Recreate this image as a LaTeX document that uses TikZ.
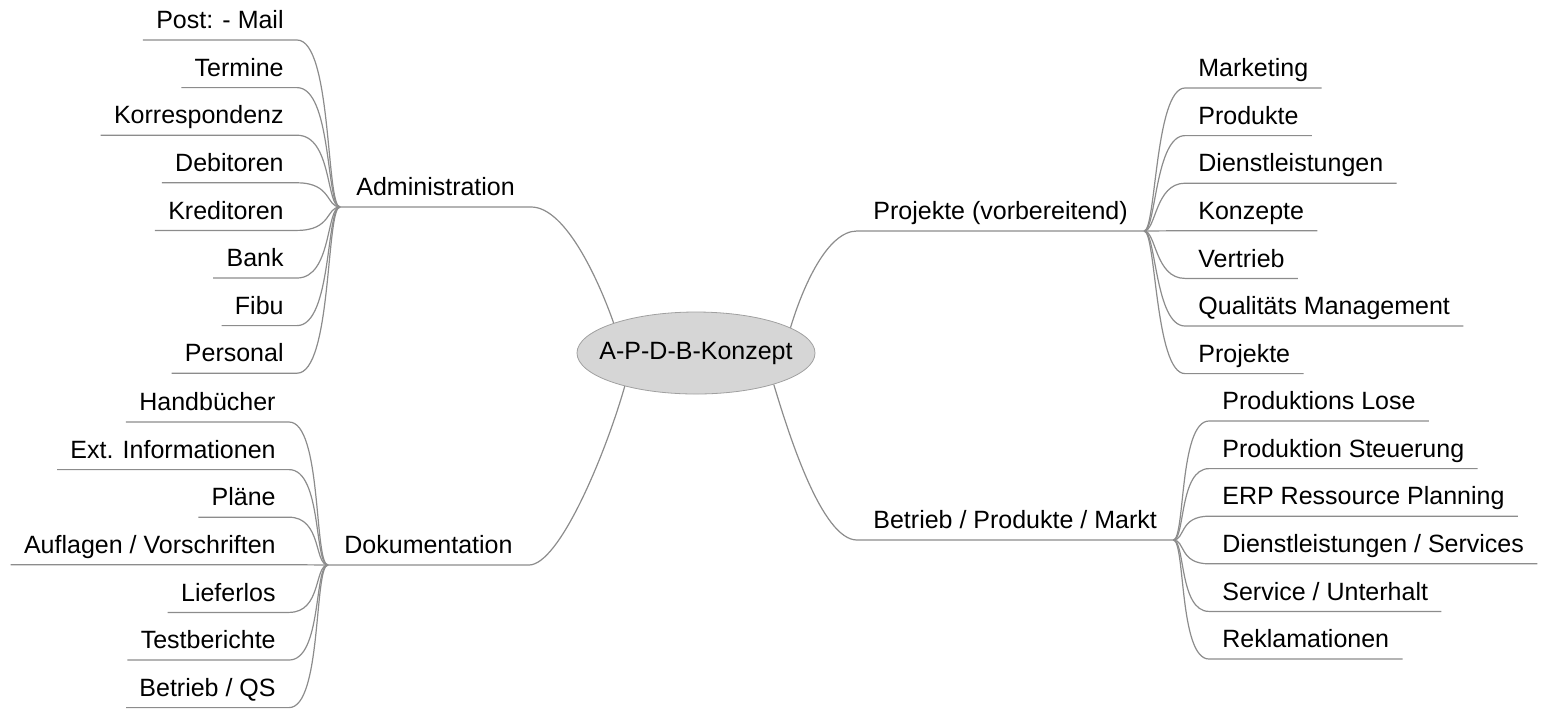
\documentclass[tikz,border=0pt]{standalone}
\usepackage{fontspec}
\setmainfont{Liberation Sans}
\usepackage{tikz}
\usetikzlibrary{shapes}
\usetikzlibrary{positioning}

\definecolor{linegray}{HTML}{8C8C8C}
\definecolor{bubblefill}{HTML}{D6D6D6}
\definecolor{bubbleline}{HTML}{A0A0A0}

\begin{document}
\begin{tikzpicture}[x=0.5pt, y=-0.5pt, font=\fontsize{12.5}{15}\selectfont,
    topic/.style={inner xsep=8pt, inner ysep=0pt, text height=9pt, text depth=5.5pt},
    leaf/.style={inner xsep=6.5pt, inner ysep=0pt, text height=9pt, text depth=5.5pt},
    link/.style={draw=linegray, line width=0.6pt}]
        \useasboundingbox (0,0) rectangle (1546,709);

        \node [draw=bubbleline, fill=bubblefill, ellipse, inner xsep=-6.2pt, inner ysep=0pt,
               minimum width=119pt, minimum height=41pt] (konzept) at (696,353) {A-P-D-B-Konzept};

        \node [topic, anchor=south west] (adm) at (340,207) {Administration};
        \node [topic, anchor=south west] (proj) at (857,231) {Projekte (vorbereitend)};
        \node [topic, anchor=south west] (doc) at (328,565) {Dokumentation};
        \node [topic, anchor=south west] (betr) at (857,540) {Betrieb / Produkte / Markt};

        \draw [link] (adm.south west) -- (adm.south east) .. controls +(35,0) and +(-14,-40) .. (konzept.160);
        \draw [link] (konzept.15) .. controls +(12,-40) and +(-30,0) .. (proj.south west) -- (proj.south east);
        \draw [link] (doc.south west) -- (doc.south east) .. controls +(30,0) and +(-20,70) .. (konzept.205);
        \draw [link] (konzept.338) .. controls +(15,50) and +(-35,0) .. (betr.south west) -- (betr.south east);

        % Administration
        \foreach \txt [count=\i from 0] in {Post: - Mail, Termine, Korrespondenz, Debitoren,
                Kreditoren, Bank, Fibu, Personal} {
            \node [leaf, anchor=south east] (adm\i) at (297,40+47.6*\i) {\txt};
            \draw [link] (adm\i.south west) -- (adm\i.south east) .. controls +(35,0) and +(-14,0) .. (adm.south west);
        }

        % Dokumentation
        \foreach \txt [count=\i from 0] in {Handbücher, Ext. Informationen, Pläne, Auflagen / Vorschriften,
                Lieferlos, Testberichte, Betrieb / QS} {
            \node [leaf, anchor=south east] (doc\i) at (289,422+47.6*\i) {\txt};
            \draw [link] (doc\i.south west) -- (doc\i.south east) .. controls +(33,0) and +(-14,0) .. (doc.south west);
        }

        % Projekte
        \foreach \txt [count=\i from 0] in {Marketing, Produkte, Dienstleistungen, Konzepte,
                Vertrieb, Qualitäts Management, Projekte} {
            \node [leaf, anchor=south west] (proj\i) at (1185,88+47.6*\i) {\txt};
            \draw [link] (proj.south east) .. controls +(12,0) and +(-30,0) .. (proj\i.south west) -- (proj\i.south east);
        }

        % Betrieb
        \foreach \txt [count=\i from 0] in {Produktions Lose, Produktion Steuerung, ERP Ressource Planning,
                Dienstleistungen / Services, Service / Unterhalt, Reklamationen} {
            \node [leaf, anchor=south west] (betr\i) at (1209,421+47.6*\i) {\txt};
            \draw [link] (betr.south east) .. controls +(12,0) and +(-30,0) .. (betr\i.south west) -- (betr\i.south east);
        }
    \end{tikzpicture}
\end{document}
